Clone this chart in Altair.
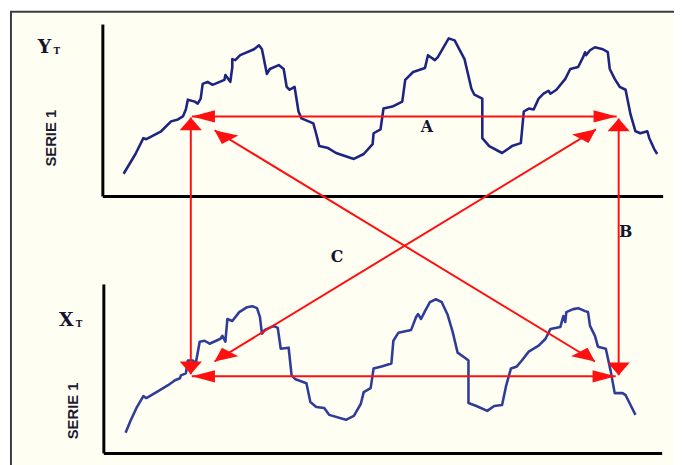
import math
import altair as alt
import pandas as pd

# ---------------- data (diagram units, y grows downward) ----------------
# Top series  Y_T : time position and level above its axis line
yt_time = [125, 137, 145, 148, 163, 173, 180, 185, 188, 190, 197, 200, 203, 205, 210, 215, 227, 228, 233, 235,
           235, 238, 243, 257, 262, 265, 270, 273, 282, 287, 290, 293, 298, 302, 305, 317, 320, 323, 332, 340,
           358, 368, 377, 378, 385, 388, 397, 407, 410, 418, 430, 433, 440, 443, 454, 460, 470, 477, 480, 488,
           488, 495, 508, 518, 527, 530, 535, 540, 545, 550, 555, 557, 563, 572, 577, 585, 590, 592, 593, 597,
           602, 610, 615, 617, 622, 627, 633, 638, 643, 648, 655, 657, 662, 665]
yt_level = [23, 43, 59, 58, 66, 76, 78, 81, 88, 98, 96, 94, 99, 114, 116, 113, 118, 123, 116, 131,
            139, 138, 143, 149, 153, 149, 124, 129, 133, 129, 111, 108, 111, 86, 79, 74, 63, 51, 49, 44,
            38, 43, 53, 64, 68, 89, 91, 96, 118, 126, 130, 143, 138, 141, 160, 158, 139, 109, 103, 99,
            59, 51, 44, 51, 54, 86, 89, 88, 99, 104, 107, 104, 108, 119, 129, 131, 141, 146, 143, 148,
            151, 149, 146, 129, 119, 111, 108, 83, 66, 64, 66, 59, 48, 43]

# Bottom series X_T
xt_time = [127, 132, 138, 145, 148, 160, 170, 177, 182, 183, 188, 190, 195, 198, 202, 207, 212, 223, 225, 228,
           230, 235, 242, 250, 255, 260, 263, 265, 268, 277, 281, 284, 292, 295, 299, 310, 314, 320, 328, 333,
           350, 358, 365, 368, 375, 378, 386, 396, 398, 403, 416, 421, 423, 426, 430, 435, 441, 447, 453, 458,
           463, 470, 474, 474, 482, 493, 500, 508, 512, 517, 523, 528, 535, 540, 545, 552, 557, 567, 570, 572,
           573, 580, 585, 592, 595, 597, 602, 605, 613, 618, 622, 630, 633, 637, 643]
xt_level = [21, 33, 46, 58, 56, 63, 69, 74, 76, 79, 81, 94, 94, 91, 113, 114, 111, 116, 119, 113,
            136, 134, 143, 148, 149, 147, 138, 121, 125, 129, 127, 106, 107, 79, 75, 71, 52, 47, 46, 39,
            34, 38, 50, 62, 66, 86, 88, 91, 114, 122, 125, 138, 141, 136, 144, 153, 156, 153, 140, 123,
            102, 97, 94, 51, 48, 43, 48, 49, 68, 86, 88, 94, 103, 106, 109, 116, 126, 128, 139, 133,
            143, 146, 147, 144, 143, 129, 119, 108, 106, 83, 61, 61, 59, 51, 39]

# panels: axis line positions
panel_name = ["Y", "X"]
panel_base = [196, 456]
panel_left = [104, 105]
panel_top = [22, 285]
panel_right = [671, 670]

# double-headed arrows (end points)
arrow_x1 = [194, 194, 193, 626, 217, 217]
arrow_y1 = [115, 378, 116, 117, 129, 363]
arrow_x2 = [624, 623, 193, 626, 602, 603]
arrow_y2 = [115, 378, 376, 377, 363, 128]

# labels
serif_text = ["Y", "T", "X", "T", "A", "B", "C"]
serif_x = [45, 57.5, 67, 80, 432, 633, 341]
serif_y = [44.5, 48.5, 321.5, 325, 126, 232, 257]
serif_size = [19, 9, 19, 9, 16, 16, 16]
sans_text = ["SERIE 1", "SERIE 1"]
sans_x = [52, 74]
sans_y = [137, 413]

# frame
frame_x = [11]
frame_y = [9]
frame_x2 = [700]
frame_y2 = [480]

# ---------------- tables ----------------
curve_rows = []
for name, t, lv in (("Y", yt_time, yt_level), ("X", xt_time, xt_level)):
    base = panel_base[panel_name.index(name)]
    for i, (a, b) in enumerate(zip(t, lv)):
        curve_rows.append({"panel": name, "i": i, "t": a, "py": base - b})
curves = pd.DataFrame(curve_rows)

axes_rows = []
for n, b, l, tp, r in zip(panel_name, panel_base, panel_left, panel_top, panel_right):
    axes_rows.append({"x": l, "y": tp, "x2": l, "y2": b})
    axes_rows.append({"x": l, "y": b, "x2": r, "y2": b})
axes = pd.DataFrame(axes_rows)

arrows = pd.DataFrame({"x": arrow_x1, "y": arrow_y1, "x2": arrow_x2, "y2": arrow_y2})

STRETCH, HL, HW = 1.8, 13.0, 12.5


def head_path(dx, dy):
    ux, uy = dx / STRETCH, dy
    n = math.hypot(ux, uy)
    ux, uy = ux / n, uy / n
    bx, by = -HL * ux, -HL * uy
    nx, ny = -uy, ux
    p1 = ((bx + HW / 2 * nx) * STRETCH, by + HW / 2 * ny)
    p2 = ((bx - HW / 2 * nx) * STRETCH, by - HW / 2 * ny)
    return f"M0,0L{p1[0]:.2f},{p1[1]:.2f}L{p2[0]:.2f},{p2[1]:.2f}Z"


head_rows = []
for x1, y1, x2, y2 in zip(arrow_x1, arrow_y1, arrow_x2, arrow_y2):
    head_rows.append({"x": x2, "y": y2, "path": head_path(x2 - x1, y2 - y1)})
    head_rows.append({"x": x1, "y": y1, "path": head_path(x1 - x2, y1 - y2)})
heads = pd.DataFrame(head_rows)

serif = pd.DataFrame({"text": serif_text, "x": serif_x, "y": serif_y, "fs": serif_size})
sans = pd.DataFrame({"text": sans_text, "x": sans_x, "y": sans_y})
frame = pd.DataFrame({"x": frame_x, "y": frame_y, "x2": frame_x2, "y2": frame_y2})

# ---------------- chart ----------------
xs = alt.Scale(domain=[8, 682], nice=False, zero=False)
ys = alt.Scale(domain=[8, 465], nice=False, zero=False, reverse=True)


def X(f):
    return alt.X(f, type="quantitative", scale=xs, axis=None)


def Y(f):
    return alt.Y(f, type="quantitative", scale=ys, axis=None)


frame_l = alt.Chart(frame).mark_rect(fill="#FFFEF3", stroke="#3c3c3c", strokeWidth=2).encode(
    x=X("x"), y=Y("y"), x2="x2", y2="y2")

axes_l = alt.Chart(axes).mark_rule(color="#000000", strokeWidth=3).encode(
    x=X("x"), y=Y("y"), x2="x2", y2="y2")

curve_l = alt.Chart(curves).mark_line(strokeWidth=2.6, strokeJoin="round").encode(
    x=X("t"), y=Y("py"), detail="panel:N", order="i:Q",
    color=alt.Color("panel:N", scale=alt.Scale(domain=["Y", "X"], range=["#1D2482", "#2F3D98"]), legend=None))

arrow_l = alt.Chart(arrows).mark_rule(color="#FF1010", strokeWidth=2).encode(
    x=X("x"), y=Y("y"), x2="x2", y2="y2")

head_l = alt.Chart(heads).mark_point(filled=True, size=4, opacity=1, color="#FF1010", strokeWidth=0).encode(
    x=X("x"), y=Y("y"), shape=alt.Shape("path:N", scale=None))

serif_l = alt.Chart(serif).mark_text(font="DejaVu Serif", fontWeight="bold", color="#14142e",
                                     align="center", baseline="middle").encode(
    x=X("x"), y=Y("y"), text="text:N", size=alt.Size("fs:Q", scale=None))

sans_l = alt.Chart(sans).mark_text(font="Liberation Sans", fontWeight="bold",
                                   fontSize=15, angle=270,
                                   color="#1c1c30", align="center", baseline="middle").encode(
    x=X("x"), y=Y("y"), text="text:N")

chart = alt.layer(frame_l, axes_l, curve_l, arrow_l, head_l, serif_l, sans_l).properties(
    width=674, height=457, padding=0, background="#ffffff",
    autosize=alt.AutoSizeParams(type="none", contains="padding"),
).configure_view(strokeWidth=0)

chart.save("out.html", embed_options={"renderer": "svg", "actions": False})
